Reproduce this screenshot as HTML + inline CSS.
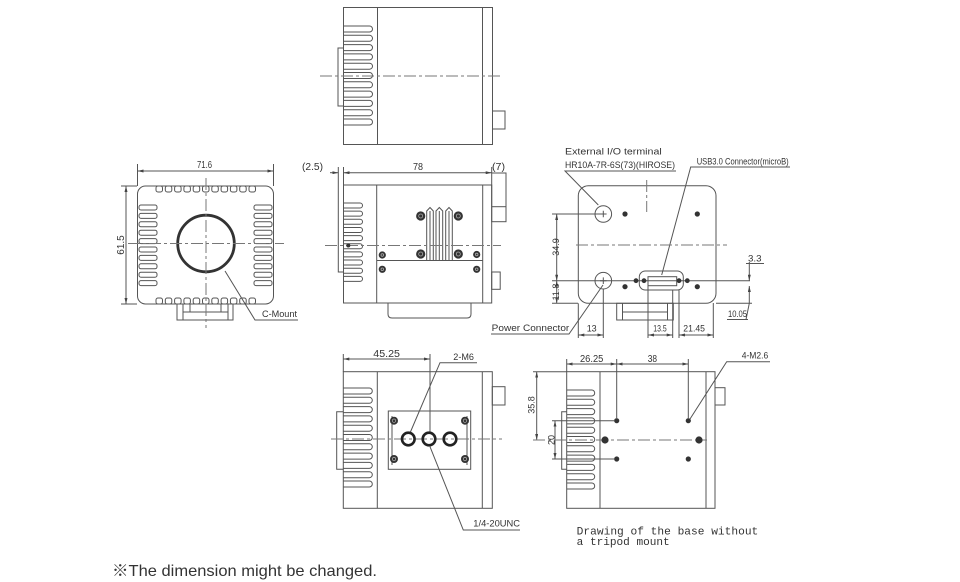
<!DOCTYPE html>
<html><head><meta charset="utf-8"><style>
html,body{margin:0;padding:0;background:#fff;}
svg{display:block;}
</style></head><body>
<svg width="960" height="582" viewBox="0 0 960 582" xmlns="http://www.w3.org/2000/svg">
<defs>
<marker id="ar" viewBox="0 0 8 4" refX="8" refY="2" markerWidth="6" markerHeight="3" orient="auto-start-reverse"><path d="M0,0 L8,2 L0,4z" fill="#444"/></marker>
<path id="finA" d="M0,0 H26 A3,3 0 0 1 26,6 H0" fill="none" stroke="#555" stroke-width="1"/>
<path id="finB" d="M0,0 H16.5 A2.5,2.5 0 0 1 16.5,5 H0" fill="none" stroke="#555" stroke-width="1"/>
<path id="finC" d="M0,0 H25 A3,3 0 0 1 25,6 H0" fill="none" stroke="#555" stroke-width="1"/>
<rect id="slotT" width="6.5" height="6" rx="2" fill="none" stroke="#555" stroke-width="1"/>
<rect id="slotS" width="18" height="5" rx="2" fill="none" stroke="#555" stroke-width="1"/>
</defs>
<rect width="960" height="582" fill="#fff"/>

<g fill="none" stroke="#555" stroke-width="1">
<!-- ===== TOP VIEW ===== -->
<rect x="343.5" y="7.5" width="149" height="137"/>
<line x1="377.5" y1="7.5" x2="377.5" y2="144.5"/>
<line x1="482.5" y1="7.5" x2="482.5" y2="144.5"/>
<path d="M343,48 H338 V106 H343"/>
<rect x="492.5" y="111" width="12.5" height="18"/>
</g>
<g>
<use href="#finA" x="343.5" y="26"/><use href="#finA" x="343.5" y="35.3"/><use href="#finA" x="343.5" y="44.6"/>
<use href="#finA" x="343.5" y="53.9"/><use href="#finA" x="343.5" y="63.2"/><use href="#finA" x="343.5" y="72.5"/>
<use href="#finA" x="343.5" y="81.8"/><use href="#finA" x="343.5" y="91.1"/><use href="#finA" x="343.5" y="100.4"/>
<use href="#finA" x="343.5" y="109.7"/><use href="#finA" x="343.5" y="119"/>
</g>
<line x1="320" y1="76" x2="503" y2="76" stroke="#777" stroke-width="1" stroke-dasharray="12,3,3,3"/>

<!-- ===== FRONT VIEW ===== -->
<g fill="none" stroke="#555" stroke-width="1">
<rect x="137.5" y="186" width="136" height="118" rx="8"/>
<circle cx="206" cy="243.5" r="28.3" stroke="#333" stroke-width="2.8"/>
<rect x="177" y="304" width="56" height="16"/>
<line x1="183" y1="304" x2="183" y2="320"/>
<line x1="228" y1="304" x2="228" y2="320"/>
<line x1="183" y1="312" x2="228" y2="312"/>
<line x1="190" y1="304" x2="190" y2="312"/>
<line x1="221" y1="304" x2="221" y2="312"/>
<!-- dims -->
<line x1="137.5" y1="164" x2="137.5" y2="186"/>
<line x1="273.5" y1="164" x2="273.5" y2="186"/>
<line x1="137.5" y1="171" x2="273.5" y2="171" marker-start="url(#ar)" marker-end="url(#ar)"/>
<line x1="121" y1="186" x2="137" y2="186"/>
<line x1="121" y1="304" x2="137" y2="304"/>
<line x1="126" y1="186" x2="126" y2="304" marker-start="url(#ar)" marker-end="url(#ar)"/>
<path d="M225,271 L255,320 H298"/>
</g>
<g>
<use href="#slotT" x="156" y="186"/><use href="#slotT" x="165.3" y="186"/><use href="#slotT" x="174.6" y="186"/>
<use href="#slotT" x="183.9" y="186"/><use href="#slotT" x="193.2" y="186"/><use href="#slotT" x="202.5" y="186"/>
<use href="#slotT" x="211.8" y="186"/><use href="#slotT" x="221.1" y="186"/><use href="#slotT" x="230.4" y="186"/>
<use href="#slotT" x="239.7" y="186"/><use href="#slotT" x="249" y="186"/>
<use href="#slotT" x="156" y="298"/><use href="#slotT" x="165.3" y="298"/><use href="#slotT" x="174.6" y="298"/>
<use href="#slotT" x="183.9" y="298"/><use href="#slotT" x="193.2" y="298"/><use href="#slotT" x="202.5" y="298"/>
<use href="#slotT" x="211.8" y="298"/><use href="#slotT" x="221.1" y="298"/><use href="#slotT" x="230.4" y="298"/>
<use href="#slotT" x="239.7" y="298"/><use href="#slotT" x="249" y="298"/>
<use href="#slotS" x="139" y="205"/><use href="#slotS" x="139" y="213.4"/><use href="#slotS" x="139" y="221.8"/>
<use href="#slotS" x="139" y="230.2"/><use href="#slotS" x="139" y="238.6"/><use href="#slotS" x="139" y="247"/>
<use href="#slotS" x="139" y="255.4"/><use href="#slotS" x="139" y="263.8"/><use href="#slotS" x="139" y="272.2"/>
<use href="#slotS" x="139" y="280.6"/>
<use href="#slotS" x="254" y="205"/><use href="#slotS" x="254" y="213.4"/><use href="#slotS" x="254" y="221.8"/>
<use href="#slotS" x="254" y="230.2"/><use href="#slotS" x="254" y="238.6"/><use href="#slotS" x="254" y="247"/>
<use href="#slotS" x="254" y="255.4"/><use href="#slotS" x="254" y="263.8"/><use href="#slotS" x="254" y="272.2"/>
<use href="#slotS" x="254" y="280.6"/>
</g>
<g stroke="#777" stroke-width="1" stroke-dasharray="12,3,3,3">
<line x1="206" y1="178" x2="206" y2="328"/>
<line x1="128" y1="243.5" x2="284" y2="243.5"/>
</g>

<!-- ===== SIDE VIEW (middle) ===== -->
<g fill="none" stroke="#555" stroke-width="1">
<rect x="343.5" y="185" width="148.2" height="118"/>
<line x1="376.7" y1="185" x2="376.7" y2="303"/>
<line x1="482.7" y1="185" x2="482.7" y2="303"/>
<line x1="376.7" y1="260.5" x2="482.7" y2="260.5"/>
<rect x="491.7" y="173" width="14.3" height="48.7"/>
<line x1="491.7" y1="206.7" x2="506" y2="206.7"/>
<rect x="491.7" y="272" width="8.5" height="17.3"/>
<path d="M388,303 V314 Q388,318 392,318 H467 Q471,318 471,314 V303"/>
<path d="M338.3,167 V272 H343.5"/>
<line x1="343.5" y1="167" x2="343.5" y2="185"/>
<line x1="491.7" y1="167" x2="491.7" y2="173"/>
<line x1="330" y1="172.7" x2="338.3" y2="172.7" marker-end="url(#ar)"/>
<line x1="343.5" y1="172.7" x2="491.7" y2="172.7" marker-start="url(#ar)" marker-end="url(#ar)"/>
<!-- pins -->
<path d="M426.7,260.5 V211 L430,207.5 L433.3,211 V260.5"/>
<path d="M436,260.5 V211 L439.3,207.5 L442.7,211 V260.5"/>
<path d="M445.7,260.5 V211 L449,207.5 L452.3,211 V260.5"/>
<line x1="430" y1="211" x2="430" y2="260.5"/>
<line x1="439.3" y1="211" x2="439.3" y2="260.5"/>
<line x1="449" y1="211" x2="449" y2="260.5"/>
</g>
<g>
<use href="#finB" x="343.5" y="203"/><use href="#finB" x="343.5" y="211.15"/><use href="#finB" x="343.5" y="219.3"/>
<use href="#finB" x="343.5" y="227.45"/><use href="#finB" x="343.5" y="235.6"/><use href="#finB" x="343.5" y="243.75"/>
<use href="#finB" x="343.5" y="251.9"/><use href="#finB" x="343.5" y="260.05"/><use href="#finB" x="343.5" y="268.2"/>
<use href="#finB" x="343.5" y="276.35"/>
</g>
<line x1="325" y1="245.5" x2="501" y2="245.5" stroke="#777" stroke-width="1" stroke-dasharray="12,3,3,3"/>
<g fill="#333">
<circle cx="348.3" cy="245.5" r="2"/>
<circle cx="420.7" cy="216" r="4.6"/><circle cx="458.3" cy="216" r="4.6"/>
<circle cx="420.7" cy="254" r="4.6"/><circle cx="458.3" cy="254" r="4.6"/>
<circle cx="382.3" cy="255" r="3.6"/><circle cx="382.3" cy="269.3" r="3.6"/>
<circle cx="476.7" cy="254.5" r="3.6"/><circle cx="476.7" cy="269.3" r="3.6"/>
</g>
<g fill="none" stroke="#aaa" stroke-width="0.8">
<circle cx="420.7" cy="216" r="2"/><circle cx="458.3" cy="216" r="2"/>
<circle cx="420.7" cy="254" r="2"/><circle cx="458.3" cy="254" r="2"/>
<circle cx="382.3" cy="255" r="1.3"/><circle cx="382.3" cy="269.3" r="1.3"/>
<circle cx="476.7" cy="254.5" r="1.3"/><circle cx="476.7" cy="269.3" r="1.3"/>
</g>

<!-- ===== REAR VIEW ===== -->
<g fill="none" stroke="#555" stroke-width="1">
<rect x="578.3" y="185.7" width="137.7" height="117.6" rx="10"/>
<circle cx="603.3" cy="214" r="8.3"/>
<circle cx="603.3" cy="280.7" r="8.3"/>
<path d="M600,214 H606.6 M603.3,210.7 V217.3"/>
<path d="M600,280.7 H606.6 M603.3,277.4 V284"/>
<rect x="639.3" y="271" width="44" height="19" rx="6"/>
<rect x="648" y="276.7" width="28.7" height="9"/>
<rect x="616.7" y="303.3" width="56.6" height="16.7"/>
<line x1="622.5" y1="303.3" x2="622.5" y2="320"/>
<line x1="667.5" y1="303.3" x2="667.5" y2="320"/>
<line x1="622.5" y1="312" x2="667.5" y2="312"/>
<!-- leaders -->
<path d="M676,171 H565 L598.3,205"/>
<path d="M790,167 H690.7 L661.7,275"/>
<path d="M491,334 H569 L603,285"/>
<!-- dims -->
<line x1="552" y1="214" x2="603" y2="214"/>
<line x1="552" y1="280.7" x2="603" y2="280.7"/>
<line x1="552" y1="303.3" x2="578" y2="303.3"/>
<line x1="556.7" y1="214" x2="556.7" y2="280.7" marker-start="url(#ar)" marker-end="url(#ar)"/>
<line x1="556.7" y1="280.7" x2="556.7" y2="303.3" marker-start="url(#ar)" marker-end="url(#ar)"/>
<line x1="603" y1="280.7" x2="750" y2="280.7"/>
<line x1="716" y1="303.3" x2="752" y2="303.3"/>
<line x1="749.3" y1="262" x2="749.3" y2="280.7" marker-end="url(#ar)"/>
<line x1="749.3" y1="303.3" x2="749.3" y2="286" marker-end="url(#ar)"/>
<line x1="746" y1="263.5" x2="764" y2="263.5"/>
<line x1="727" y1="319.5" x2="748" y2="319.5"/>
<line x1="746" y1="319.5" x2="749.3" y2="303.3"/>
<line x1="578.3" y1="303.3" x2="578.3" y2="338"/>
<line x1="603.3" y1="289" x2="603.3" y2="338"/>
<line x1="578.3" y1="335" x2="603.3" y2="335" marker-start="url(#ar)" marker-end="url(#ar)"/>
<line x1="648" y1="285" x2="648" y2="338"/>
<line x1="672.7" y1="290" x2="672.7" y2="338"/>
<line x1="679" y1="290" x2="679" y2="338"/>
<line x1="713.3" y1="303" x2="713.3" y2="338"/>
<line x1="648" y1="335" x2="672.7" y2="335" marker-start="url(#ar)" marker-end="url(#ar)"/>
<line x1="679" y1="335" x2="713.3" y2="335" marker-start="url(#ar)" marker-end="url(#ar)"/>
</g>
<g fill="#333">
<circle cx="625" cy="214" r="2.6"/><circle cx="697.3" cy="214" r="2.6"/>
<circle cx="625" cy="286.7" r="2.6"/><circle cx="697.3" cy="286.7" r="2.6"/>
<circle cx="636" cy="280.7" r="2.4"/><circle cx="644" cy="280.7" r="2.4"/>
<circle cx="679" cy="280.7" r="2.4"/><circle cx="687.3" cy="280.7" r="2.4"/>
</g>
<g stroke="#777" stroke-width="1" stroke-dasharray="12,3,3,3">
<line x1="646.7" y1="180" x2="646.7" y2="212"/>
<line x1="576" y1="245" x2="727" y2="245"/>
</g>

<!-- ===== BOTTOM VIEW (with tripod) ===== -->
<g fill="none" stroke="#555" stroke-width="1">
<rect x="343.3" y="371.7" width="149" height="136.6"/>
<line x1="377.3" y1="371.7" x2="377.3" y2="508.3"/>
<line x1="482.3" y1="371.7" x2="482.3" y2="508.3"/>
<path d="M343.3,411.7 H336.7 V469.3 H343.3"/>
<rect x="492.3" y="386.7" width="12.7" height="18.3"/>
<rect x="388.3" y="411" width="82.4" height="58.3"/>
<line x1="392" y1="416" x2="392" y2="465"/>
<line x1="467" y1="416" x2="467" y2="465"/>
<line x1="343.3" y1="354" x2="343.3" y2="371.7"/>
<line x1="430" y1="354" x2="430" y2="432"/>
<line x1="343.3" y1="359" x2="430" y2="359" marker-start="url(#ar)" marker-end="url(#ar)"/>
<path d="M477,362.7 H440 L410,433"/>
<path d="M520,530 H463.3 L430,446.7"/>
</g>
<g>
<use href="#finA" x="343.3" y="388"/><use href="#finA" x="343.3" y="397.3"/><use href="#finA" x="343.3" y="406.6"/>
<use href="#finA" x="343.3" y="415.9"/><use href="#finA" x="343.3" y="425.2"/><use href="#finA" x="343.3" y="434.5"/>
<use href="#finA" x="343.3" y="443.8"/><use href="#finA" x="343.3" y="453.1"/><use href="#finA" x="343.3" y="462.4"/>
<use href="#finA" x="343.3" y="471.7"/><use href="#finA" x="343.3" y="481"/>
</g>
<line x1="331" y1="439" x2="502" y2="439" stroke="#777" stroke-width="1" stroke-dasharray="12,3,3,3"/>
<g fill="#333">
<circle cx="394" cy="420.7" r="4"/><circle cx="465" cy="420.7" r="4"/>
<circle cx="394" cy="459" r="4"/><circle cx="465" cy="459" r="4"/>
</g>
<g fill="none" stroke="#aaa" stroke-width="0.8">
<circle cx="394" cy="420.7" r="1.7"/><circle cx="465" cy="420.7" r="1.7"/>
<circle cx="394" cy="459" r="1.7"/><circle cx="465" cy="459" r="1.7"/>
</g>
<g fill="none" stroke="#222" stroke-width="2.6">
<circle cx="408.3" cy="439" r="6.3"/><circle cx="429" cy="439" r="6.3"/><circle cx="450" cy="439" r="6.3"/>
</g>

<!-- ===== BOTTOM VIEW (without tripod) ===== -->
<g fill="none" stroke="#555" stroke-width="1">
<rect x="566.7" y="371.7" width="148.3" height="136.6"/>
<line x1="600" y1="371.7" x2="600" y2="508.3"/>
<line x1="706" y1="371.7" x2="706" y2="508.3"/>
<rect x="715" y="387.7" width="10" height="17.3"/>
<path d="M566.7,411.7 H561.7 V469.3 H566.7"/>
<line x1="533" y1="371.7" x2="566.7" y2="371.7"/>
<line x1="536.7" y1="371.7" x2="536.7" y2="440" marker-start="url(#ar)" marker-end="url(#ar)"/>
<line x1="552" y1="420.7" x2="614" y2="420.7"/>
<line x1="552" y1="459" x2="614" y2="459"/>
<line x1="555" y1="420.7" x2="555" y2="459" marker-start="url(#ar)" marker-end="url(#ar)"/>
<line x1="566.7" y1="359" x2="566.7" y2="371.7"/>
<line x1="616.7" y1="359" x2="616.7" y2="418"/>
<line x1="688.3" y1="359" x2="688.3" y2="418"/>
<line x1="566.7" y1="364" x2="616.7" y2="364" marker-start="url(#ar)" marker-end="url(#ar)"/>
<line x1="616.7" y1="364" x2="688.3" y2="364" marker-start="url(#ar)" marker-end="url(#ar)"/>
<path d="M770,361.7 H726.7 L690,419"/>
</g>
<g>
<use href="#finC" x="566.7" y="390"/><use href="#finC" x="566.7" y="399.3"/><use href="#finC" x="566.7" y="408.6"/>
<use href="#finC" x="566.7" y="417.9"/><use href="#finC" x="566.7" y="427.2"/><use href="#finC" x="566.7" y="436.5"/>
<use href="#finC" x="566.7" y="445.8"/><use href="#finC" x="566.7" y="455.1"/><use href="#finC" x="566.7" y="464.4"/>
<use href="#finC" x="566.7" y="473.7"/><use href="#finC" x="566.7" y="483"/>
</g>
<line x1="533" y1="440" x2="707" y2="440" stroke="#777" stroke-width="1" stroke-dasharray="12,3,3,3"/>
<g fill="#333">
<circle cx="616.7" cy="420.7" r="2.6"/><circle cx="688.3" cy="420.7" r="2.6"/>
<circle cx="616.7" cy="459" r="2.6"/><circle cx="688.3" cy="459" r="2.6"/>
<circle cx="605" cy="440" r="3.6"/><circle cx="699" cy="440" r="3.6"/>
</g>

<!-- ===== TEXT ===== -->
<g font-family="'Liberation Sans', sans-serif" fill="#333" font-size="10">
<text x="197" y="168" textLength="15" lengthAdjust="spacingAndGlyphs">71.6</text>
<text transform="translate(124,245) rotate(-90)" text-anchor="middle" font-size="10">61.5</text>
<text x="262" y="317" font-size="9" textLength="35" lengthAdjust="spacingAndGlyphs">C-Mount</text>
<text x="302" y="170" textLength="21" lengthAdjust="spacingAndGlyphs">(2.5)</text>
<text x="413" y="170" textLength="10" lengthAdjust="spacingAndGlyphs">78</text>
<text x="492" y="170" textLength="13" lengthAdjust="spacingAndGlyphs">(7)</text>
<text x="565" y="154.3" font-size="9" textLength="96.7" lengthAdjust="spacingAndGlyphs">External I/O terminal</text>
<text x="565" y="168" font-size="9" textLength="110" lengthAdjust="spacingAndGlyphs">HR10A-7R-6S(73)(HIROSE)</text>
<text x="696.7" y="164.3" font-size="9" textLength="92" lengthAdjust="spacingAndGlyphs">USB3.0 Connector(microB)</text>
<text transform="translate(559,247) rotate(-90)" text-anchor="middle" font-size="9">34.9</text>
<text transform="translate(559,292) rotate(-90)" text-anchor="middle" font-size="9">11.8</text>
<text x="748" y="261.5" font-size="9" textLength="13.5" lengthAdjust="spacingAndGlyphs">3.3</text>
<text x="728" y="317" font-size="9" textLength="19" lengthAdjust="spacingAndGlyphs">10.05</text>
<text x="491.7" y="331" font-size="9" textLength="77.6" lengthAdjust="spacingAndGlyphs">Power Connector</text>
<text x="586.7" y="331.5" font-size="9" textLength="10" lengthAdjust="spacingAndGlyphs">13</text>
<text x="653.3" y="331.5" font-size="9" textLength="13.4" lengthAdjust="spacingAndGlyphs">13.5</text>
<text x="683.3" y="331.5" font-size="9" textLength="21.7" lengthAdjust="spacingAndGlyphs">21.45</text>
<text x="373.3" y="357" textLength="26.7" lengthAdjust="spacingAndGlyphs">45.25</text>
<text x="453.3" y="360" font-size="9" textLength="20.7" lengthAdjust="spacingAndGlyphs">2-M6</text>
<text x="473.3" y="526.5" font-size="9" textLength="46.7" lengthAdjust="spacingAndGlyphs">1/4-20UNC</text>
<text x="580" y="362" textLength="23.3" lengthAdjust="spacingAndGlyphs">26.25</text>
<text x="647.7" y="362" textLength="9.3" lengthAdjust="spacingAndGlyphs">38</text>
<text x="741.7" y="358.5" font-size="9" textLength="26.6" lengthAdjust="spacingAndGlyphs">4-M2.6</text>
<text transform="translate(534.5,405) rotate(-90)" text-anchor="middle" font-size="9">35.8</text>
<text transform="translate(554.5,440) rotate(-90)" text-anchor="middle" font-size="9">20</text>
</g>
<g font-family="'Liberation Mono', monospace" fill="#333" font-size="11">
<text x="576.7" y="534.3" textLength="181.6" lengthAdjust="spacingAndGlyphs">Drawing of the base without</text>
<text x="576.7" y="545" textLength="93" lengthAdjust="spacingAndGlyphs">a tripod mount</text>
</g>
<text x="112" y="576" font-family="'Liberation Sans', 'Noto Sans CJK JP', sans-serif" font-size="16" fill="#333" textLength="265" lengthAdjust="spacingAndGlyphs">※The dimension might be changed.</text>
</svg>
</body></html>
